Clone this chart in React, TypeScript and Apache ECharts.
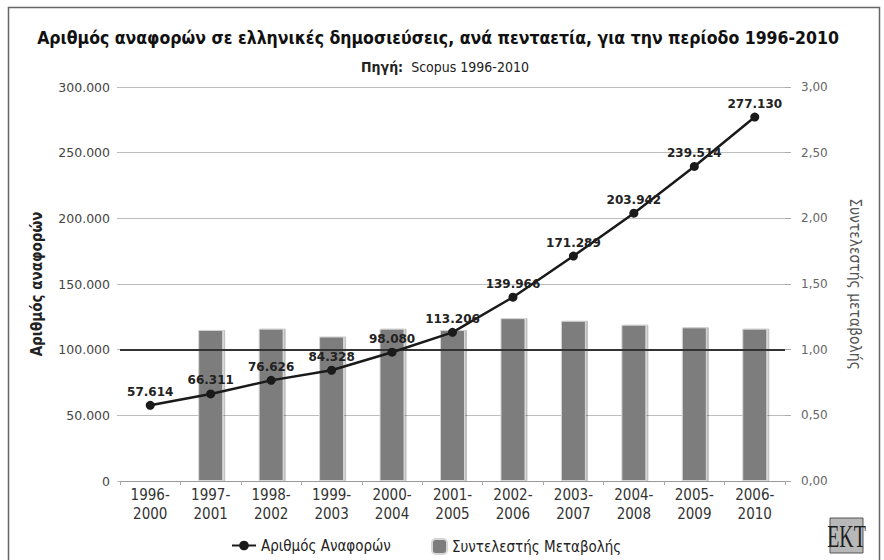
import React, { useEffect, useRef } from "react";
import * as echarts from "echarts";

const categories = [
  "1996-\n2000", "1997-\n2001", "1998-\n2002", "1999-\n2003", "2000-\n2004", "2001-\n2005",
  "2002-\n2006", "2003-\n2007", "2004-\n2008", "2005-\n2009", "2006-\n2010",
];
const citations = [57614, 66311, 76626, 84328, 98080, 113206, 139966, 171289, 203942, 239514, 277130];
const changeRate = [null, 1.15, 1.16, 1.1, 1.16, 1.15, 1.24, 1.22, 1.19, 1.17, 1.16];
const leftTicks = { min: 0, max: 300000, interval: 50000 };
const rightTicks = { min: 0, max: 3, interval: 0.5 };
const referenceLevel = 1.0;

const titleText = "Αριθμός αναφορών σε ελληνικές δημοσιεύσεις, ανά πενταετία, για την περίοδο 1996-2010";
const lineName = "Αριθμός Αναφορών";
const barName = "Συντελεστής Μεταβολής";

const fmtThousands = (v: number) => String(v).replace(/\B(?=(\d{3})+(?!\d))/g, ".");
const fmtComma = (v: number) => v.toFixed(2).replace(".", ",");

const COND = "'DejaVu Sans Condensed', 'DejaVu Sans', sans-serif";
const SANS = "'DejaVu Sans', sans-serif";

export default function App() {
  const ref = useRef<HTMLDivElement>(null);
  useEffect(() => {
    document.body.style.margin = "0";
    const chart = echarts.init(ref.current!, null, { renderer: "svg" });
    chart.setOption({
      animation: false,
      backgroundColor: "#ffffff",
      title: [
        {
          text: titleText,
          left: 433,
          textAlign: "center",
          top: 24,
          textStyle: { fontFamily: COND, fontSize: 17.5, fontWeight: "bold", color: "#111" },
        },
        {
          text: "{b|Πηγή:}  Scopus 1996-2010",
          left: 440,
          textAlign: "center",
          top: 55,
          textStyle: {
            fontFamily: COND,
            fontSize: 14,
            fontWeight: "normal",
            color: "#222",
            rich: { b: { fontFamily: COND, fontSize: 14, fontWeight: "bold", color: "#222" } },
          },
        },
      ],
      grid: { left: 120, right: 99, top: 87, bottom: 79 },
      legend: [
        {
          data: [lineName],
          left: 226,
          top: 533,
          itemWidth: 24,
          itemHeight: 12,
          itemGap: 0,
          textStyle: { fontFamily: COND, fontSize: 15, color: "#222" },
        },
        {
          data: [barName],
          left: 426,
          top: 533,
          itemWidth: 15,
          itemHeight: 15,
          textStyle: { fontFamily: COND, fontSize: 15, color: "#222" },
        },
      ],
      xAxis: {
        type: "category",
        data: categories,
        boundaryGap: true,
        axisLine: { lineStyle: { color: "#999", width: 1 } },
        axisTick: { show: true, length: 4, lineStyle: { color: "#aaa" } },
        axisLabel: { fontFamily: COND, fontSize: 15, color: "#333", lineHeight: 19, margin: 4 },
      },
      yAxis: [
        {
          type: "value",
          min: leftTicks.min,
          max: leftTicks.max,
          interval: leftTicks.interval,
          name: "Αριθμός αναφορών",
          nameLocation: "middle",
          nameGap: 76,
          nameTextStyle: { fontFamily: COND, fontSize: 15, fontWeight: "bold", color: "#222" },
          axisLine: { show: false },
          axisTick: { show: true, length: 3, lineStyle: { color: "#bbb" } },
          splitLine: { lineStyle: { color: "#bdbdbd", width: 1 } },
          axisLabel: { fontFamily: SANS, fontSize: 12.5, color: "#444", margin: 10, formatter: fmtThousands },
        },
        {
          type: "value",
          min: rightTicks.min,
          max: rightTicks.max,
          interval: rightTicks.interval,
          position: "right",
          name: "Συντελεστής μεταβολής",
          nameLocation: "middle",
          nameRotate: -90,
          nameGap: 62,
          nameTextStyle: { fontFamily: COND, fontSize: 15.5, color: "#555" },
          axisLine: { show: false },
          axisTick: { show: true, length: 6, lineStyle: { color: "#aaa" } },
          splitLine: { show: false },
          axisLabel: { fontFamily: SANS, fontSize: 12, color: "#666", margin: 16, formatter: fmtComma },
        },
      ],
      series: [
        {
          name: barName,
          type: "bar",
          yAxisIndex: 1,
          data: changeRate,
          barWidth: 25,
          itemStyle: {
            color: "#7d7d7d",
            borderColor: "#d6d6d6",
            borderWidth: 1,
            shadowColor: "rgba(0,0,0,0.25)",
            shadowOffsetX: 2,
            shadowBlur: 0,
          },
          markLine: {
            silent: true,
            symbol: "none",
            label: { show: false },
            lineStyle: { color: "#333", width: 2, type: "solid" },
            data: [{ yAxis: referenceLevel }],
          },
          z: 2,
        },
        {
          name: lineName,
          type: "line",
          yAxisIndex: 0,
          data: citations,
          symbol: "circle",
          symbolSize: 9,
          lineStyle: { color: "#1a1a1a", width: 2.5 },
          itemStyle: { color: "#1a1a1a" },
          label: {
            show: true,
            position: "top",
            distance: 3,
            fontFamily: SANS,
            fontSize: 12,
            fontWeight: "bold",
            color: "#222",
            formatter: (p: any) => fmtThousands(p.value),
          },
          z: 5,
        },
      ],
      graphic: [
        {
          type: "rect",
          shape: { x: 8.5, y: 7.5, width: 871, height: 560 },
          style: { fill: "none", stroke: "#666", lineWidth: 1.5 },
          silent: true,
        },
        {
          type: "rect",
          shape: { x: 830, y: 518, width: 33, height: 35 },
          style: { fill: "#b8b8b8", stroke: "#555", lineWidth: 1 },
          silent: true,
        },
        {
          type: "text",
          x: 846.5,
          y: 536,
          scaleX: 0.62,
          style: {
            text: "EKT",
            fontFamily: "'Liberation Serif', 'DejaVu Serif', serif",
            fontSize: 32,
            fill: "#1e1e1e",
            align: "center",
            verticalAlign: "middle",
          },
          silent: true,
        },
      ],
    });
    return () => chart.dispose();
  }, []);
  return (
    <div
      ref={ref}
      style={{ position: "absolute", left: 0, top: 0, width: 884, height: 560 }}
    />
  );
}
